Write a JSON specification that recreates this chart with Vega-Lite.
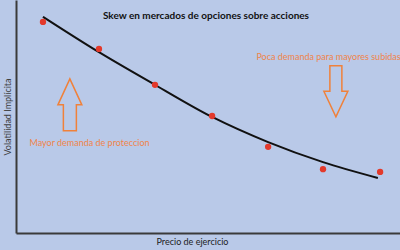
{
  "$schema": "https://vega.github.io/schema/vega-lite/v6.json",
  "width": 384,
  "height": 233,
  "autosize": {"type": "none"},
  "padding": {"left": 16, "top": 0, "right": 0, "bottom": 17},
  "background": "#b9c9e8",
  "config": {"view": {"stroke": null}, "font": "Lato"},
  "datasets": {
    "points": [
      {"strike": 1, "vol": 45.3},
      {"strike": 2, "vol": 39.5},
      {"strike": 3, "vol": 31.8},
      {"strike": 4.02, "vol": 25.1},
      {"strike": 5.02, "vol": 18.5},
      {"strike": 6, "vol": 13.7},
      {"strike": 7.02, "vol": 13.1}
    ],
    "curve": [
      {"strike": 1, "vol": 46.4},
      {"strike": 2, "vol": 38.8},
      {"strike": 3, "vol": 31.8},
      {"strike": 4.02, "vol": 24.9},
      {"strike": 5.02, "vol": 19.5},
      {"strike": 6, "vol": 15.2},
      {"strike": 6.98, "vol": 11.8}
    ],
    "up": [{"strike": 1.48, "vol": 27.5}],
    "down": [{"strike": 6.23, "vol": 30.4}],
    "title": [{"strike": 3.91, "vol": 46.6, "text": "Skew  en mercados de opciones sobre acciones"}],
    "notes": [
      {"strike": 6.1, "vol": 37.8, "text": "Poca demanda para mayores subidas"},
      {"strike": 1.83, "vol": 19.3, "text": "Mayor demanda de proteccion"}
    ]
  },
  "encoding": {
    "x": {
      "field": "strike",
      "type": "quantitative",
      "scale": {"domain": [0.518, 7.375], "nice": false, "zero": false},
      "axis": {
        "title": "Precio de ejercicio",
        "labels": false,
        "ticks": false,
        "grid": false,
        "domainColor": "#3a3a3a",
        "domainWidth": 2,
        "titleFontSize": 9,
        "titleFontWeight": "normal",
        "titleColor": "#222222",
        "titlePadding": 4,
        "titleX": 176,
        "titleAlign": "center"
      }
    },
    "y": {
      "field": "vol",
      "type": "quantitative",
      "scale": {"domain": [0, 50], "nice": false, "zero": false},
      "axis": {
        "title": "Volatilidad Implícita",
        "labels": false,
        "ticks": false,
        "grid": false,
        "domainColor": "#3a3a3a",
        "domainWidth": 2,
        "titleFontSize": 9,
        "titleFontWeight": "normal",
        "titleColor": "#404040",
        "titlePadding": 4
      }
    }
  },
  "layer": [
    {
      "data": {"name": "curve"},
      "mark": {"type": "line", "interpolate": "monotone", "color": "#111111", "strokeWidth": 2}
    },
    {
      "data": {"name": "points"},
      "mark": {"type": "point", "filled": true, "shape": "circle", "size": 40, "color": "#e3392b", "opacity": 1}
    },
    {
      "data": {"name": "up"},
      "mark": {
        "type": "point",
        "filled": false,
        "shape": "M0,-1L0.46,0L0.25,0L0.25,1L-0.25,1L-0.25,0L-0.46,0Z",
        "size": 2704,
        "stroke": "#f0813a",
        "strokeWidth": 1.5,
        "opacity": 1
      }
    },
    {
      "data": {"name": "down"},
      "mark": {
        "type": "point",
        "filled": false,
        "shape": "M0,1L0.47,0L0.235,0L0.235,-1L-0.235,-1L-0.235,0L-0.47,0Z",
        "size": 2601,
        "stroke": "#f0813a",
        "strokeWidth": 1.5,
        "opacity": 1
      }
    },
    {
      "data": {"name": "title"},
      "mark": {"type": "text", "fontWeight": "bold", "fontSize": 10, "color": "#111111", "align": "center", "baseline": "middle"},
      "encoding": {"text": {"field": "text"}}
    },
    {
      "data": {"name": "notes"},
      "mark": {"type": "text", "fontSize": 9, "color": "#f0844a", "align": "center", "baseline": "middle"},
      "encoding": {"text": {"field": "text"}}
    }
  ]
}
